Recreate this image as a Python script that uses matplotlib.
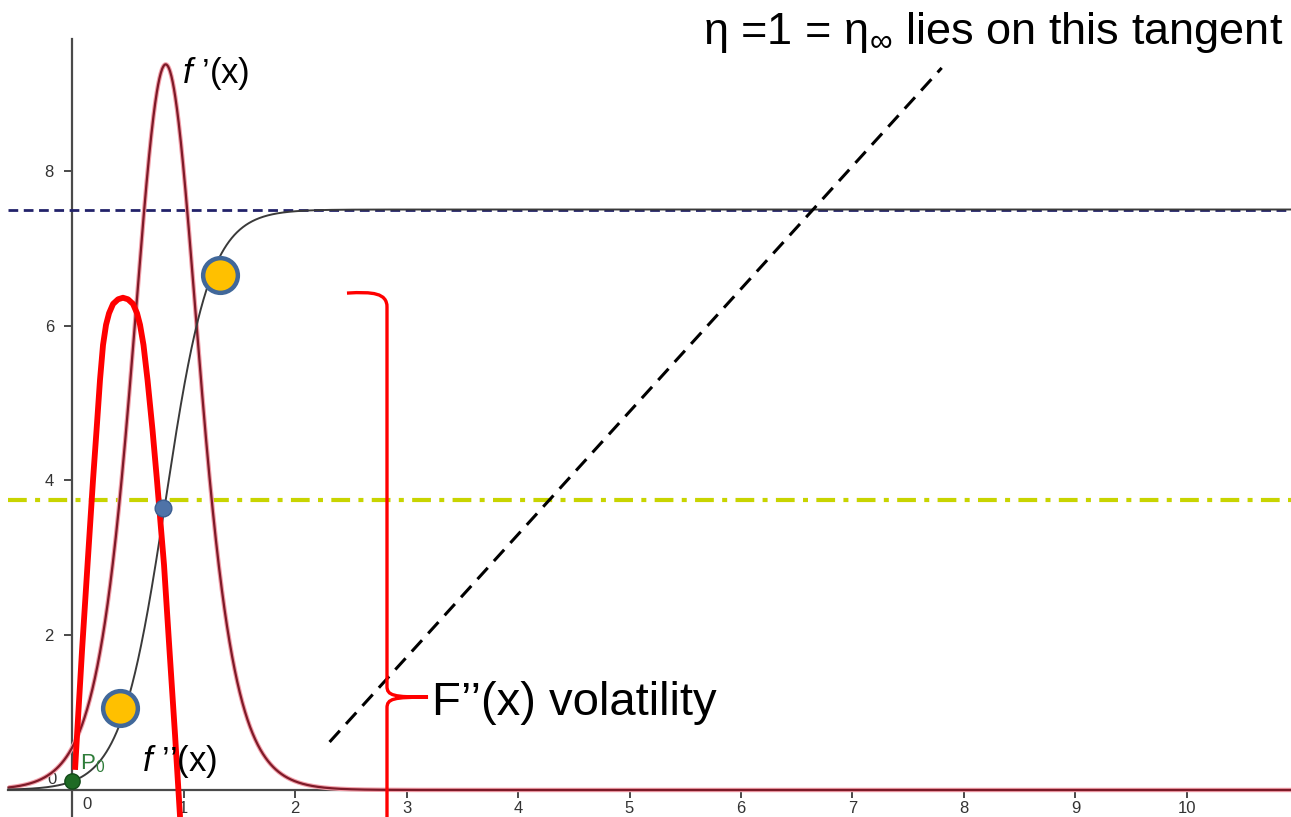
import numpy as np
import matplotlib
matplotlib.use("Agg")
import matplotlib.pyplot as plt
from matplotlib.path import Path
from matplotlib.patches import PathPatch

plt.rcParams['font.family'] = ['Liberation Sans', 'DejaVu Sans']
plt.rcParams['mathtext.fontset'] = 'custom'
plt.rcParams['mathtext.rm'] = 'Liberation Sans'
plt.rcParams['mathtext.it'] = 'Liberation Sans:italic'

# logistic F(x): ceiling, growth rate, midpoint
cap = 7.5
rate = 5.0
mid = 0.84

x_ticks = [0, 1, 2, 3, 4, 5, 6, 7, 8, 9, 10]
x_ticklabels = ['', '1', '2', '3', '4', '5', '6', '7', '8', '9', '10']
y_ticks = [0, 2, 4, 6, 8]
y_ticklabels = ['', '2', '4', '6', '8']

# hand drawn f''(x) sketch (thick red)
red_x = [0.027, 0.045, 0.090, 0.139, 0.188, 0.220, 0.251, 0.278, 0.305, 0.332,
         0.368, 0.413, 0.457, 0.502, 0.547, 0.583, 0.610, 0.641,
         0.677, 0.722, 0.762, 0.825, 0.874, 0.924, 0.969]
red_y = [0.26, 0.71, 1.81, 2.91, 4.00, 4.65, 5.30, 5.75, 6.01, 6.16,
         6.28, 6.34, 6.36, 6.34, 6.28, 6.16, 6.01, 5.75,
         5.30, 4.65, 4.00, 2.91, 1.81, 0.71, -0.35]

# dashed tangent
tangent_x = [2.31, 7.80]
tangent_y = [0.62, 9.33]

orange_x = [0.43, 1.33]
orange_y = [1.06, 6.65]
infl_x, infl_y = 0.82, 3.64
p0_x, p0_y = 0.0, 0.12

x_lo, x_hi = -0.646, 10.933
y_lo, y_hi = -0.349, 10.207

fig = plt.figure(figsize=(12.91, 8.17), dpi=100)
ax = fig.add_axes([0, 0, 1, 1])
ax.set_xlim(x_lo, x_hi)
ax.set_ylim(y_lo, y_hi)

for s in ['top', 'right']:
    ax.spines[s].set_visible(False)
ax.spines['left'].set_position(('data', 0))
ax.spines['bottom'].set_position(('data', 0))
ax.spines['left'].set_bounds(y_lo, 9.7)
ax.spines['bottom'].set_bounds(-0.57, x_hi)
for s in ['left', 'bottom']:
    ax.spines[s].set_color('#4a4a4a')
    ax.spines[s].set_linewidth(1.6)
    ax.spines[s].set_zorder(1)

ax.set_xticks(x_ticks)
ax.set_xticklabels(x_ticklabels)
ax.set_yticks(y_ticks)
ax.set_yticklabels(y_ticklabels)
ax.tick_params(direction='out', length=6, width=1.4, color='#4a4a4a',
               labelsize=12, labelcolor='#333333')
ax.tick_params(axis='x', pad=2)
ax.tick_params(axis='y', pad=7)
ax.text(0.135, -0.19, '0', fontsize=12, color='#333333', ha='center', va='center')
ax.text(-0.18, 0.13, '0', fontsize=12, color='#333333', ha='center', va='center')

xs = np.linspace(-0.57, x_hi, 3000)
F = cap / (1 + np.exp(-rate * (xs - mid)))
dF = rate * F * (1 - F / cap)

# guide lines
ax.plot([-0.57, x_hi], [cap, cap], color='#22226a', lw=2, ls=(0, (3.5, 2)), zorder=2)
ax.plot([-0.57, x_hi], [cap / 2, cap / 2], color='#c8d400', lw=3,
        ls=(0, (4.5, 2, 1.2, 2)), zorder=2)

ax.plot(xs, dF, color='#f2a0aa', lw=3.2, zorder=3, solid_capstyle='butt')
ax.plot(xs, dF, color='#7e1a28', lw=1.6, zorder=3)
ax.plot(xs, F, color='#3a3a3a', lw=1.4, zorder=3)

ax.plot(tangent_x, tangent_y, color='black', lw=2.2, ls=(0, (5, 3)), zorder=4)

ax.plot(red_x, red_y, color='#ff0000', lw=4.2, zorder=5,
        solid_joinstyle='round', solid_capstyle='butt')

# curly brace
bx, tipx = 2.825, 3.193
verts = [(2.466, 6.42),
         (2.70, 6.44), (bx, 6.42), (bx, 6.24),
         (bx, 1.34),
         (bx, 1.22), (2.88, 1.20), (tipx, 1.20),
         (2.88, 1.20), (bx, 1.18), (bx, 1.06),
         (bx, -0.6)]
codes = [Path.MOVETO,
         Path.CURVE4, Path.CURVE4, Path.CURVE4,
         Path.LINETO,
         Path.CURVE4, Path.CURVE4, Path.CURVE4,
         Path.CURVE4, Path.CURVE4, Path.CURVE4,
         Path.LINETO]
ax.add_patch(PathPatch(Path(verts, codes), fill=False, edgecolor='#ff0000',
                       lw=2.4, zorder=5))

# points
ax.plot([p0_x], [p0_y], 'o', ms=11, color='#1e6b24', mec='#124a18', mew=1, zorder=6)
ax.plot([infl_x], [infl_y], 'o', ms=12, color='#4f73a8', mec='#3b5e90', mew=1, zorder=6)
ax.plot(orange_x, orange_y, 'o', ms=25, color='#ffc000', mec='#41689a', mew=3.2, zorder=7)

# labels
ax.text(0.07, 0.27, r'P$_0$', fontsize=16, color='#2f7d3a', zorder=8)
ax.text(0.99, 9.14, r'$f$ ’(x)', fontsize=25, color='black', zorder=8)
ax.text(0.628, 0.25, r'$f$ ’’(x)', fontsize=25, color='black', zorder=8)
ax.text(3.229, 0.97, 'F’’(x) volatility', fontsize=34, color='black', zorder=8)
ax.text(5.66, 9.64, r'η =1 = η$_\infty$ lies on this tangent', fontsize=32.5,
        color='black', zorder=8)

fig.savefig('out.png', dpi=100)
